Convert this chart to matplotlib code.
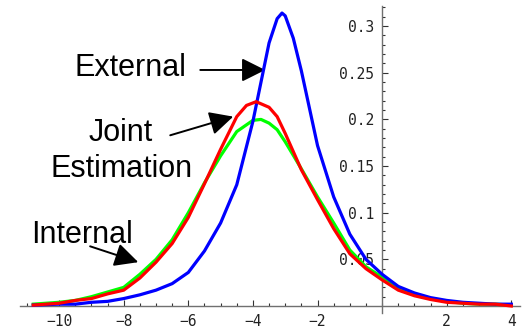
import numpy as np
import matplotlib
matplotlib.use("Agg")
import matplotlib.pyplot as plt
from matplotlib.ticker import FixedLocator

# values
x_ext = [-10.8, -10, -9.5, -9, -8.5, -8, -7.5, -7, -6.5, -6, -5.5, -5, -4.5, -4,
         -3.75, -3.5, -3.25, -3.1, -3, -2.75, -2.5, -2, -1.5, -1, -0.5, 0, 0.5,
         1, 1.5, 2, 2.5, 3, 3.5, 4]
y_ext = [0.001, 0.002, 0.002, 0.004, 0.005, 0.008, 0.012, 0.017, 0.024, 0.036,
         0.059, 0.089, 0.130, 0.198, 0.240, 0.282, 0.308, 0.314, 0.311, 0.287,
         0.252, 0.172, 0.117, 0.077, 0.050, 0.034, 0.021, 0.014, 0.009, 0.006,
         0.004, 0.003, 0.002, 0.002]

x_joint = [-10.8, -10, -9.5, -9, -8.5, -8, -7.5, -7, -6.5, -6, -5.5, -5, -4.5,
           -4.2, -3.9, -3.5, -3.25, -3, -2.5, -2, -1.5, -1, -0.5, 0, 0.5, 1, 1.5,
           2, 2.5, 3, 3.5, 4]
y_joint = [0.001, 0.003, 0.006, 0.008, 0.013, 0.017, 0.030, 0.047, 0.067, 0.095,
           0.131, 0.168, 0.203, 0.215, 0.219, 0.213, 0.203, 0.185, 0.146, 0.114,
           0.083, 0.056, 0.040, 0.028, 0.017, 0.011, 0.007, 0.004, 0.003, 0.002,
           0.002, 0.0]

x_int = [-10.8, -10, -9.5, -9, -8.5, -8, -7.5, -7, -6.5, -6, -5.5, -5, -4.5, -4,
         -3.75, -3.5, -3.25, -3, -2.5, -2, -1.5, -1, -0.5, 0, 0.5, 1, 1.5, 2,
         2.5, 3, 3.5, 4]
y_int = [0.002, 0.004, 0.006, 0.010, 0.015, 0.020, 0.034, 0.050, 0.071, 0.100,
         0.132, 0.161, 0.187, 0.199, 0.200, 0.196, 0.189, 0.176, 0.147, 0.117,
         0.089, 0.060, 0.042, 0.031, 0.019, 0.012, 0.008, 0.005, 0.003, 0.002,
         0.002, 0.001]

x_ticks = [-10, -8, -6, -4, -2, 2, 4]
y_ticks = [0.05, 0.1, 0.15, 0.2, 0.25, 0.3]
y_labels = ["0.05", "0.1", "0.15", "0.2", "0.25", "0.3"]

fig = plt.figure(figsize=(5.22, 3.30), dpi=100)
ax = fig.add_axes([0, 0, 1, 1])

ax.plot(x_int, y_int, color="#00ff00", lw=2.3, zorder=3)
ax.plot(x_ext, y_ext, color="#0000ff", lw=2.3, zorder=4)
ax.plot(x_joint, y_joint, color="#ff0000", lw=2.3, zorder=5)

ax.set_xlim(-11.83, 4.33)
ax.set_ylim(-0.0257, 0.328)

# Mathematica style axes crossing at the origin
for s in ["top", "right"]:
    ax.spines[s].set_visible(False)
ax.spines["left"].set_position(("data", 0))
ax.spines["bottom"].set_position(("data", 0))
ax.spines["left"].set_bounds(-0.007, 0.322)
ax.spines["bottom"].set_bounds(-11.2, 4.27)
for s in ["left", "bottom"]:
    ax.spines[s].set_color("#707070")
    ax.spines[s].set_linewidth(1.0)
    ax.spines[s].set_zorder(2)

ax.xaxis.set_major_locator(FixedLocator(x_ticks))
ax.xaxis.set_minor_locator(FixedLocator(np.arange(-11, 4.01, 0.5)))
ax.yaxis.set_major_locator(FixedLocator(y_ticks))
ax.yaxis.set_minor_locator(FixedLocator(np.arange(0.01, 0.321, 0.01)))
ax.set_xticklabels(["\u2212" + str(abs(v)) if v < 0 else str(v) for v in x_ticks])
ax.set_yticklabels(y_labels)

ax.tick_params(which="both", direction="in", color="#333333", width=0.8)
ax.tick_params(which="major", length=4.5)
ax.tick_params(which="minor", length=2.5)
ax.tick_params(axis="x", pad=6, labelsize=10.5, labelcolor="#222222")
ax.tick_params(axis="y", pad=6, labelsize=10.5, labelcolor="#222222")
for lab in ax.get_xticklabels() + ax.get_yticklabels():
    lab.set_family("DejaVu Sans Mono")

arrow = dict(arrowstyle="-|>,head_length=0.8,head_width=0.4", mutation_scale=18,
             color="black", lw=1.4, shrinkA=0, shrinkB=0)
txt = dict(fontsize=22, family="Liberation Sans", ha="center", va="center")

ax.text(-7.80, 0.255, "External", **txt)
ax.annotate("", xy=(-3.62, 0.253), xytext=(-5.63, 0.253), arrowprops=arrow)
ax.text(-8.08, 0.166, "Joint\nEstimation", linespacing=1.25, **txt)
ax.annotate("", xy=(-4.61, 0.203), xytext=(-6.56, 0.183), arrowprops=arrow)
ax.text(-9.29, 0.076, "Internal", **txt)
ax.annotate("", xy=(-7.55, 0.047), xytext=(-9.04, 0.064), arrowprops=arrow)

fig.savefig("out.png", dpi=100)
